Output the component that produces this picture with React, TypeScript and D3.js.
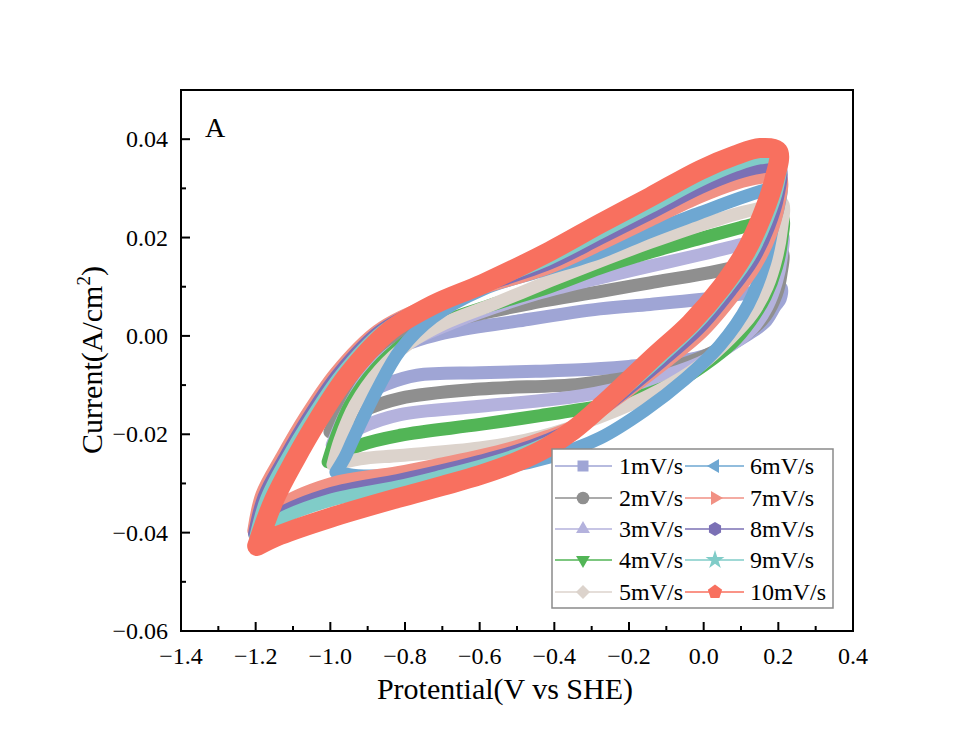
import React from 'react';
import * as d3 from 'd3';

type Pt = [number, number];

const seriesLabels = ['1mV/s', '2mV/s', '3mV/s', '4mV/s', '5mV/s', '6mV/s', '7mV/s', '8mV/s', '9mV/s', '10mV/s'];
const seriesColors = ['#9fa5d5', '#8f8f8f', '#b4b2dd', '#52b556', '#dcd3cc', '#6ea7d2', '#f19184', '#7b70b5', '#80ccc8', '#f8705f'];
const markerKinds = ['square', 'circle', 'triUp', 'triDown', 'diamond', 'triLeft', 'triRight', 'hexagon', 'star', 'pentagon'];

const xTicks = [-1.4, -1.2, -1.0, -0.8, -0.6, -0.4, -0.2, 0.0, 0.2, 0.4];
const xMinor = [-1.3, -1.1, -0.9, -0.7, -0.5, -0.3, -0.1, 0.1, 0.3];
const yTicks = [-0.06, -0.04, -0.02, 0.0, 0.02, 0.04];
const yMinor = [-0.05, -0.03, -0.01, 0.01, 0.03];

// 1 mV/s
const cv1: Pt[] = [
  [-0.98, -0.0165], [-0.95, -0.012], [-0.9, -0.0068], [-0.83, -0.0028], [-0.706, 0.0004], [-0.5, 0.003],
  [-0.278, 0.0055], [-0.144, 0.0064], [-0.01, 0.0074], [0.1, 0.0085], [0.18, 0.0094], [0.207, 0.0098],
  [0.205, 0.0075], [0.191, 0.006], [0.164, 0.0028], [0.116, 0.0002], [0.044, -0.0029], [-0.02, -0.0045],
  [-0.1, -0.0055], [-0.2, -0.0062], [-0.331, -0.0069], [-0.45, -0.0072], [-0.599, -0.0075], [-0.768, -0.008],
  [-0.85, -0.0098], [-0.92, -0.0125], [-0.98, -0.0165],
];
// 2 mV/s
const cv2: Pt[] = [
  [-1.001, -0.0195], [-0.961, -0.013], [-0.907, -0.0059], [-0.827, -0.001], [-0.679, 0.003], [-0.45, 0.0068],
  [-0.278, 0.009], [-0.144, 0.0108], [-0.01, 0.0125], [0.097, 0.0142], [0.18, 0.016], [0.21, 0.017],
  [0.207, 0.0125], [0.195, 0.0085], [0.165, 0.004], [0.124, 0.001], [0.071, -0.0014], [-0.01, -0.0045],
  [-0.144, -0.0076], [-0.331, -0.0098], [-0.599, -0.0108], [-0.813, -0.0127], [-0.92, -0.0155], [-1.001, -0.0195],
];
// 3 mV/s
const cv3: Pt[] = [
  [-0.995, -0.0222], [-0.961, -0.0161], [-0.907, -0.009], [-0.827, -0.0029], [-0.679, 0.0025], [-0.45, 0.0085],
  [-0.278, 0.0118], [-0.144, 0.0142], [-0.01, 0.0165], [0.097, 0.0185], [0.18, 0.02], [0.21, 0.0207],
  [0.208, 0.016], [0.195, 0.011], [0.17, 0.006], [0.13, 0.0015], [0.071, -0.002], [-0.01, -0.0055],
  [-0.144, -0.009], [-0.331, -0.0122], [-0.599, -0.0143], [-0.813, -0.016], [-0.92, -0.0187], [-0.995, -0.0222],
];
// 4 mV/s
const cv4: Pt[] = [
  [-1.006, -0.0256], [-0.987, -0.0212], [-0.947, -0.0141], [-0.88, -0.0069], [-0.8, -0.0014], [-0.706, 0.0026],
  [-0.572, 0.0062], [-0.412, 0.01], [-0.278, 0.0138], [-0.144, 0.017], [-0.01, 0.0198], [0.097, 0.022],
  [0.17, 0.0234], [0.21, 0.0242],
  [0.208, 0.019], [0.195, 0.014], [0.165, 0.008], [0.125, 0.003], [0.075, -0.0015], [0.0, -0.006],
  [-0.063, -0.009], [-0.15, -0.0118], [-0.278, -0.0143], [-0.438, -0.0162], [-0.599, -0.018], [-0.813, -0.0202],
  [-0.92, -0.0222], [-1.006, -0.0256],
];
// 5 mV/s
const cv5: Pt[] = [
  [-0.993, -0.0262], [-0.974, -0.0212], [-0.934, -0.0141], [-0.867, -0.0069], [-0.787, -0.0014], [-0.693, 0.0026],
  [-0.559, 0.0066], [-0.412, 0.0112], [-0.278, 0.0152], [-0.144, 0.019], [-0.01, 0.0225], [0.097, 0.025],
  [0.17, 0.0263], [0.21, 0.027],
  [0.208, 0.0215], [0.195, 0.016], [0.17, 0.01], [0.13, 0.0045], [0.071, -0.0005], [-0.01, -0.006],
  [-0.117, -0.011], [-0.278, -0.0165], [-0.438, -0.0205], [-0.599, -0.0228], [-0.813, -0.0243], [-0.92, -0.025],
  [-0.993, -0.0262],
];
// 6 mV/s
const cv6: Pt[] = [
  [-0.985, -0.0277], [-0.96, -0.0245], [-0.939, -0.021], [-0.875, -0.011], [-0.813, -0.0029], [-0.725, 0.0038],
  [-0.591, 0.0095], [-0.438, 0.0132], [-0.278, 0.017], [-0.144, 0.0212], [-0.01, 0.025], [0.097, 0.028],
  [0.17, 0.0298], [0.205, 0.0305],
  [0.2, 0.0262], [0.186, 0.0225], [0.164, 0.015], [0.119, 0.0063], [0.044, -0.0019], [-0.05, -0.0088],
  [-0.157, -0.0151], [-0.278, -0.0208], [-0.412, -0.0246], [-0.545, -0.0268], [-0.733, -0.028], [-0.867, -0.0285],
  [-0.94, -0.0283], [-0.985, -0.0277],
];
// 7 mV/s
const cv7: Pt[] = [
  [-1.205, -0.0396], [-1.183, -0.0322], [-1.129, -0.0245], [-1.067, -0.0165], [-0.985, -0.0075], [-0.874, 0.001],
  [-0.745, 0.006], [-0.61, 0.0094], [-0.412, 0.014], [-0.278, 0.0186], [-0.144, 0.0235], [-0.01, 0.0283],
  [0.084, 0.031], [0.151, 0.0322], [0.205, 0.0322],
  [0.201, 0.0268], [0.178, 0.0205], [0.138, 0.0143], [0.08, 0.0082], [-0.004, 0.0008], [-0.103, -0.0054],
  [-0.243, -0.0134], [-0.33, -0.0178], [-0.42, -0.0205], [-0.5, -0.0225], [-0.599, -0.0244], [-0.7, -0.026],
  [-0.82, -0.0278], [-1.0, -0.0301], [-1.15, -0.0352], [-1.205, -0.0396],
];
// 8 mV/s
const cv8: Pt[] = [
  [-1.203, -0.0403], [-1.177, -0.0326], [-1.122, -0.0248], [-1.06, -0.0168], [-0.979, -0.0078], [-0.868, 0.0009],
  [-0.74, 0.0061], [-0.605, 0.0098], [-0.412, 0.0148], [-0.278, 0.0198], [-0.144, 0.0249], [-0.01, 0.0301],
  [0.084, 0.033], [0.151, 0.0343], [0.203, 0.0342],
  [0.199, 0.0285], [0.173, 0.022], [0.132, 0.0155], [0.072, 0.0092], [-0.012, 0.0016], [-0.11, -0.005],
  [-0.25, -0.0136], [-0.335, -0.0183], [-0.42, -0.0212], [-0.5, -0.0234], [-0.599, -0.0255], [-0.7, -0.0274],
  [-0.82, -0.0294], [-1.0, -0.0321], [-1.145, -0.0366], [-1.203, -0.0403],
];
// 9 mV/s
const cv9: Pt[] = [
  [-1.2, -0.041], [-1.17, -0.033], [-1.116, -0.025], [-1.053, -0.017], [-0.972, -0.008], [-0.862, 0.0008],
  [-0.735, 0.0062], [-0.6, 0.0102], [-0.412, 0.0158], [-0.278, 0.021], [-0.144, 0.0262], [-0.01, 0.0316],
  [0.084, 0.0347], [0.151, 0.0362], [0.202, 0.036],
  [0.197, 0.03], [0.168, 0.0234], [0.125, 0.0164], [0.063, 0.0098], [-0.022, 0.0022], [-0.117, -0.0045],
  [-0.258, -0.0138], [-0.34, -0.0188], [-0.42, -0.0218], [-0.5, -0.0242], [-0.599, -0.0265], [-0.7, -0.0285],
  [-0.82, -0.0307], [-1.0, -0.0334], [-1.14, -0.0375], [-1.2, -0.041],
];
// 10 mV/s
const cv10: Pt[] = [
  [-1.196, -0.0427], [-1.151, -0.0334], [-1.095, -0.0252], [-1.033, -0.0171], [-0.953, -0.008], [-0.845, 0.0008],
  [-0.725, 0.0063], [-0.591, 0.0106], [-0.412, 0.0172], [-0.278, 0.0228], [-0.144, 0.0282], [-0.01, 0.0337],
  [0.084, 0.0367], [0.151, 0.0382], [0.199, 0.0375],
  [0.189, 0.0317], [0.156, 0.0243], [0.111, 0.017], [0.049, 0.01], [-0.036, 0.0025], [-0.13, -0.004],
  [-0.27, -0.014], [-0.35, -0.0192], [-0.42, -0.0227], [-0.5, -0.0256], [-0.599, -0.0283], [-0.7, -0.0305],
  [-0.821, -0.033], [-1.001, -0.037], [-1.135, -0.0405], [-1.196, -0.0427],
];

const cvData: Pt[][] = [cv1, cv2, cv3, cv4, cv5, cv6, cv7, cv8, cv9, cv10];

const FONT = '"Liberation Serif", "Times New Roman", Times, serif';

function polygon(n: number, r: number, rotDeg: number): string {
  const pts: string[] = [];
  for (let i = 0; i < n; i++) {
    const a = ((rotDeg + (i * 360) / n) * Math.PI) / 180;
    pts.push(`${(r * Math.cos(a)).toFixed(2)},${(r * Math.sin(a)).toFixed(2)}`);
  }
  return 'M' + pts.join('L') + 'Z';
}

function markerPath(kind: string): string {
  switch (kind) {
    case 'square':
      return d3.symbol(d3.symbolSquare, 121)() as string;
    case 'circle':
      return d3.symbol(d3.symbolCircle, 125)() as string;
    case 'triUp':
      return polygon(3, 8, -90);
    case 'triDown':
      return polygon(3, 8, 90);
    case 'triLeft':
      return polygon(3, 8, 180);
    case 'triRight':
      return polygon(3, 8, 0);
    case 'diamond':
      return polygon(4, 7, -90);
    case 'hexagon':
      return polygon(6, 7, -90);
    case 'star':
      return d3.symbol(d3.symbolStar, 110)() as string;
    case 'pentagon':
      return polygon(5, 7.5, -90);
    default:
      return '';
  }
}

export default function App() {
  const W = 974;
  const H = 749;
  const left = 181, right = 853, top = 90, bottom = 631;
  const x = d3.scaleLinear().domain([-1.4, 0.4]).range([left, right]);
  const y = d3.scaleLinear().domain([-0.06, 0.05]).range([bottom, top]);
  const line = d3
    .line<Pt>()
    .x((d) => x(d[0]))
    .y((d) => y(d[1]))
    .curve(d3.curveCatmullRom.alpha(0.5));
  const fx = d3.format('.1f');
  const fy = d3.format('.2f');

  const legendRows = [466, 498, 529, 560, 592];
  const legendCols = [
    { x1: 555, x2: 612, mx: 583, tx: 619 },
    { x1: 685, x2: 744, mx: 715, tx: 750 },
  ];

  return (
    <svg
      width={W}
      height={H}
      viewBox={`0 0 ${W} ${H}`}
      style={{ position: 'absolute', left: 0, top: 0, background: '#ffffff' }}
      fontFamily={FONT}
    >
      <rect x={0} y={0} width={W} height={H} fill="#ffffff" />
      {/* curves */}
      <g fill="none" strokeLinejoin="round" strokeLinecap="round">
        {cvData.map((d, i) => (
          <path key={i} d={line(d) as string} stroke={seriesColors[i]} strokeWidth={i === 9 ? 20 : 13} />
        ))}
      </g>

      {/* frame */}
      <rect x={left} y={top} width={right - left} height={bottom - top} fill="none" stroke="#000" strokeWidth={2} />

      {/* x ticks */}
      {xTicks.map((t) => (
        <g key={'xt' + t}>
          <line x1={x(t)} x2={x(t)} y1={bottom} y2={bottom - 9} stroke="#000" strokeWidth={2} />
          <text x={x(t)} y={664} fontSize={24} textAnchor="middle" fill="#000">
            {fx(t)}
          </text>
        </g>
      ))}
      {xMinor.map((t) => (
        <line key={'xm' + t} x1={x(t)} x2={x(t)} y1={bottom} y2={bottom - 5} stroke="#000" strokeWidth={2} />
      ))}

      {/* y ticks */}
      {yTicks.map((t) => (
        <g key={'yt' + t}>
          <line x1={left} x2={left + 9} y1={y(t)} y2={y(t)} stroke="#000" strokeWidth={2} />
          <text x={168} y={y(t) + 8} fontSize={24} textAnchor="end" fill="#000">
            {fy(t)}
          </text>
        </g>
      ))}
      {yMinor.map((t) => (
        <line key={'ym' + t} x1={left} x2={left + 5} y1={y(t)} y2={y(t)} stroke="#000" strokeWidth={2} />
      ))}

      {/* axis titles */}
      <text x={505} y={699} fontSize={30} textAnchor="middle" fill="#000">
        Protential(V vs SHE)
      </text>
      <text transform="translate(102,360) rotate(-90)" fontSize={30} textAnchor="middle" fill="#000">
        Current(A/cm<tspan fontSize={19} dy={-12}>2</tspan>
        <tspan dy={12}>)</tspan>
      </text>

      {/* panel label */}
      <text x={205} y={137} fontSize={28} fill="#000">
        A
      </text>

      {/* legend */}
      <rect x={552} y={449} width={281} height={159} fill="#ffffff" stroke="#8a8a8a" strokeWidth={1.5} />
      {seriesLabels.map((lab, i) => {
        const col = legendCols[Math.floor(i / 5)];
        const ry = legendRows[i % 5];
        return (
          <g key={'lg' + i}>
            <line x1={col.x1} x2={col.x2} y1={ry} y2={ry} stroke={seriesColors[i]} strokeWidth={1.5} />
            <path d={markerPath(markerKinds[i])} transform={`translate(${col.mx},${ry})`} fill={seriesColors[i]} />
            <text x={col.tx} y={ry + 8} fontSize={24} fill="#000">
              {lab}
            </text>
          </g>
        );
      })}
    </svg>
  );
}
